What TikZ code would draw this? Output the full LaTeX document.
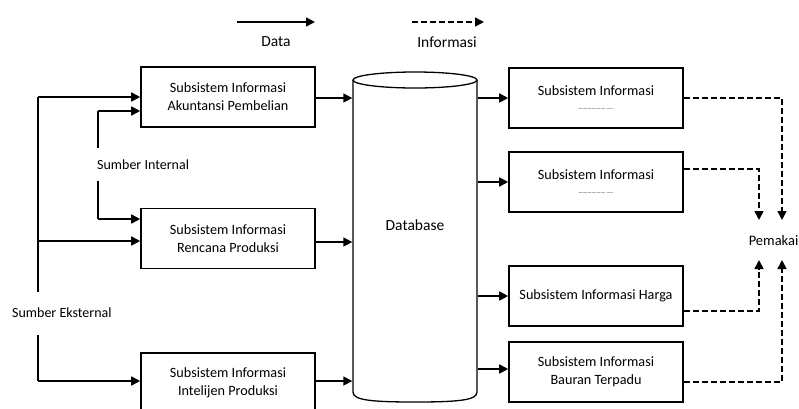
\documentclass[tikz,border=0pt]{standalone}
\usepackage{fontspec}
\setmainfont{Carlito}
\usetikzlibrary{arrows.meta}
\begin{document}
\begin{tikzpicture}[x=1pt,y=1pt,
  box/.style={draw,line width=1.6pt,minimum width=174pt,minimum height=60pt,inner sep=0pt,align=center,font=\fontsize{14.2}{18}\selectfont},
  lbl/.style={inner sep=0pt,font=\fontsize{14}{16}\selectfont},
  leg/.style={inner sep=0pt,font=\fontsize{15.5}{18}\selectfont},
  dataarr/.style={line width=1.6pt,-{Triangle[length=9pt,width=9pt]}},
  infoarr/.style={line width=1.6pt,dash pattern=on 6pt off 3pt,-{Triangle[length=9pt,width=9pt]}},
  conn/.style={line width=1.6pt}]
\useasboundingbox (0,0) rectangle (799,-408);
% legend
\coordinate (ds) at (237,-22); \coordinate (de) at (315,-22);
\draw[dataarr] (ds) -- (de);
\node[leg] (ldata) at (276,-42) {Data};
\coordinate (is) at (412,-22); \coordinate (ie) at (484,-22);
\draw[infoarr] (is) -- (ie);
\node[leg] (linfo) at (447,-42) {Informasi};
% left boxes
\node[box] (L1) at (228,-97) {Subsistem Informasi\\Akuntansi Pembelian};
\node[box] (L2) at (228,-238.5) {Subsistem Informasi\\Rencana Produksi};
\node[box] (L3) at (228,-383) {Subsistem Informasi\\Intelijen Produksi};
% database
\node[minimum width=125pt,minimum height=323pt,inner sep=0pt] (db) at (415,-239) {};
\draw[line width=1.3pt] (415,-80) ellipse [x radius=62pt, y radius=8pt];
\draw[line width=1.3pt] (353,-80) -- (353,-392) .. controls (353,-400) and (370,-402) .. (415,-402)
  .. controls (460,-402) and (477,-400) .. (477,-392) -- (477,-80);
\node[leg] (dbt) at (415,-225) {Database};
% right boxes
\node[box] (R1) at (596,-98) {Subsistem Informasi\\[-3pt]{\fontsize{5}{6}\selectfont ------------------ -----}};
\node[box] (R2) at (596,-182) {Subsistem Informasi\\[-3pt]{\fontsize{5}{6}\selectfont ------------------ -----}};
\node[box] (R3) at (596,-296) {Subsistem Informasi Harga};
\node[box] (R4) at (596,-372) {Subsistem Informasi\\Bauran Terpadu};
\node[leg,anchor=east,font=\fontsize{14.5}{18}\selectfont] (pem) at (798.5,-241) {Pemakai};
% sources
\node[lbl,anchor=west] (sint) at (97,-165) {Sumber Internal};
\node[lbl,anchor=west] (sext) at (12,-313) {Sumber Eksternal};
% external feed
\draw[conn] (38,-292) -- (38,-97);
\draw[dataarr] (38,-97) -- (L1.west |- 0,-97);
\draw[dataarr] (38,-241) -- (L2.west |- 0,-241);
\draw[conn] (38,-335) -- (38,-381);
\draw[dataarr] (38,-381) -- (L3.west |- 0,-381);
% internal feed
\draw[conn] (98,-148) -- (98,-111);
\draw[dataarr] (98,-111) -- (L1.west |- 0,-111);
\draw[conn] (98,-181) -- (98,-219);
\draw[dataarr] (98,-219) -- (L2.west |- 0,-219);
% into database
\draw[dataarr] (L1.east |- 0,-98) -- (db.west |- 0,-98);
\draw[dataarr] (L2.east |- 0,-242) -- (db.west |- 0,-242);
\draw[dataarr] (L3.east |- 0,-381) -- (db.west |- 0,-381);
% out of database
\draw[dataarr] (db.east |- 0,-98) -- (R1.west |- 0,-98);
\draw[dataarr] (db.east |- 0,-182) -- (R2.west |- 0,-182);
\draw[dataarr] (db.east |- 0,-296) -- (R3.west |- 0,-296);
\draw[dataarr] (db.east |- 0,-369) -- (R4.west |- 0,-369);
% information to users
\draw[infoarr] (R1.east |- 0,-98) -- (782,-98) -- (782,-220);
\draw[infoarr] (R2.east |- 0,-169) -- (759,-169) -- (759,-220);
\draw[infoarr] (R3.east |- 0,-311) -- (759,-311) -- (759,-260);
\draw[infoarr] (R4.east |- 0,-382) -- (782,-382) -- (782,-260);
\end{tikzpicture}
\end{document}
